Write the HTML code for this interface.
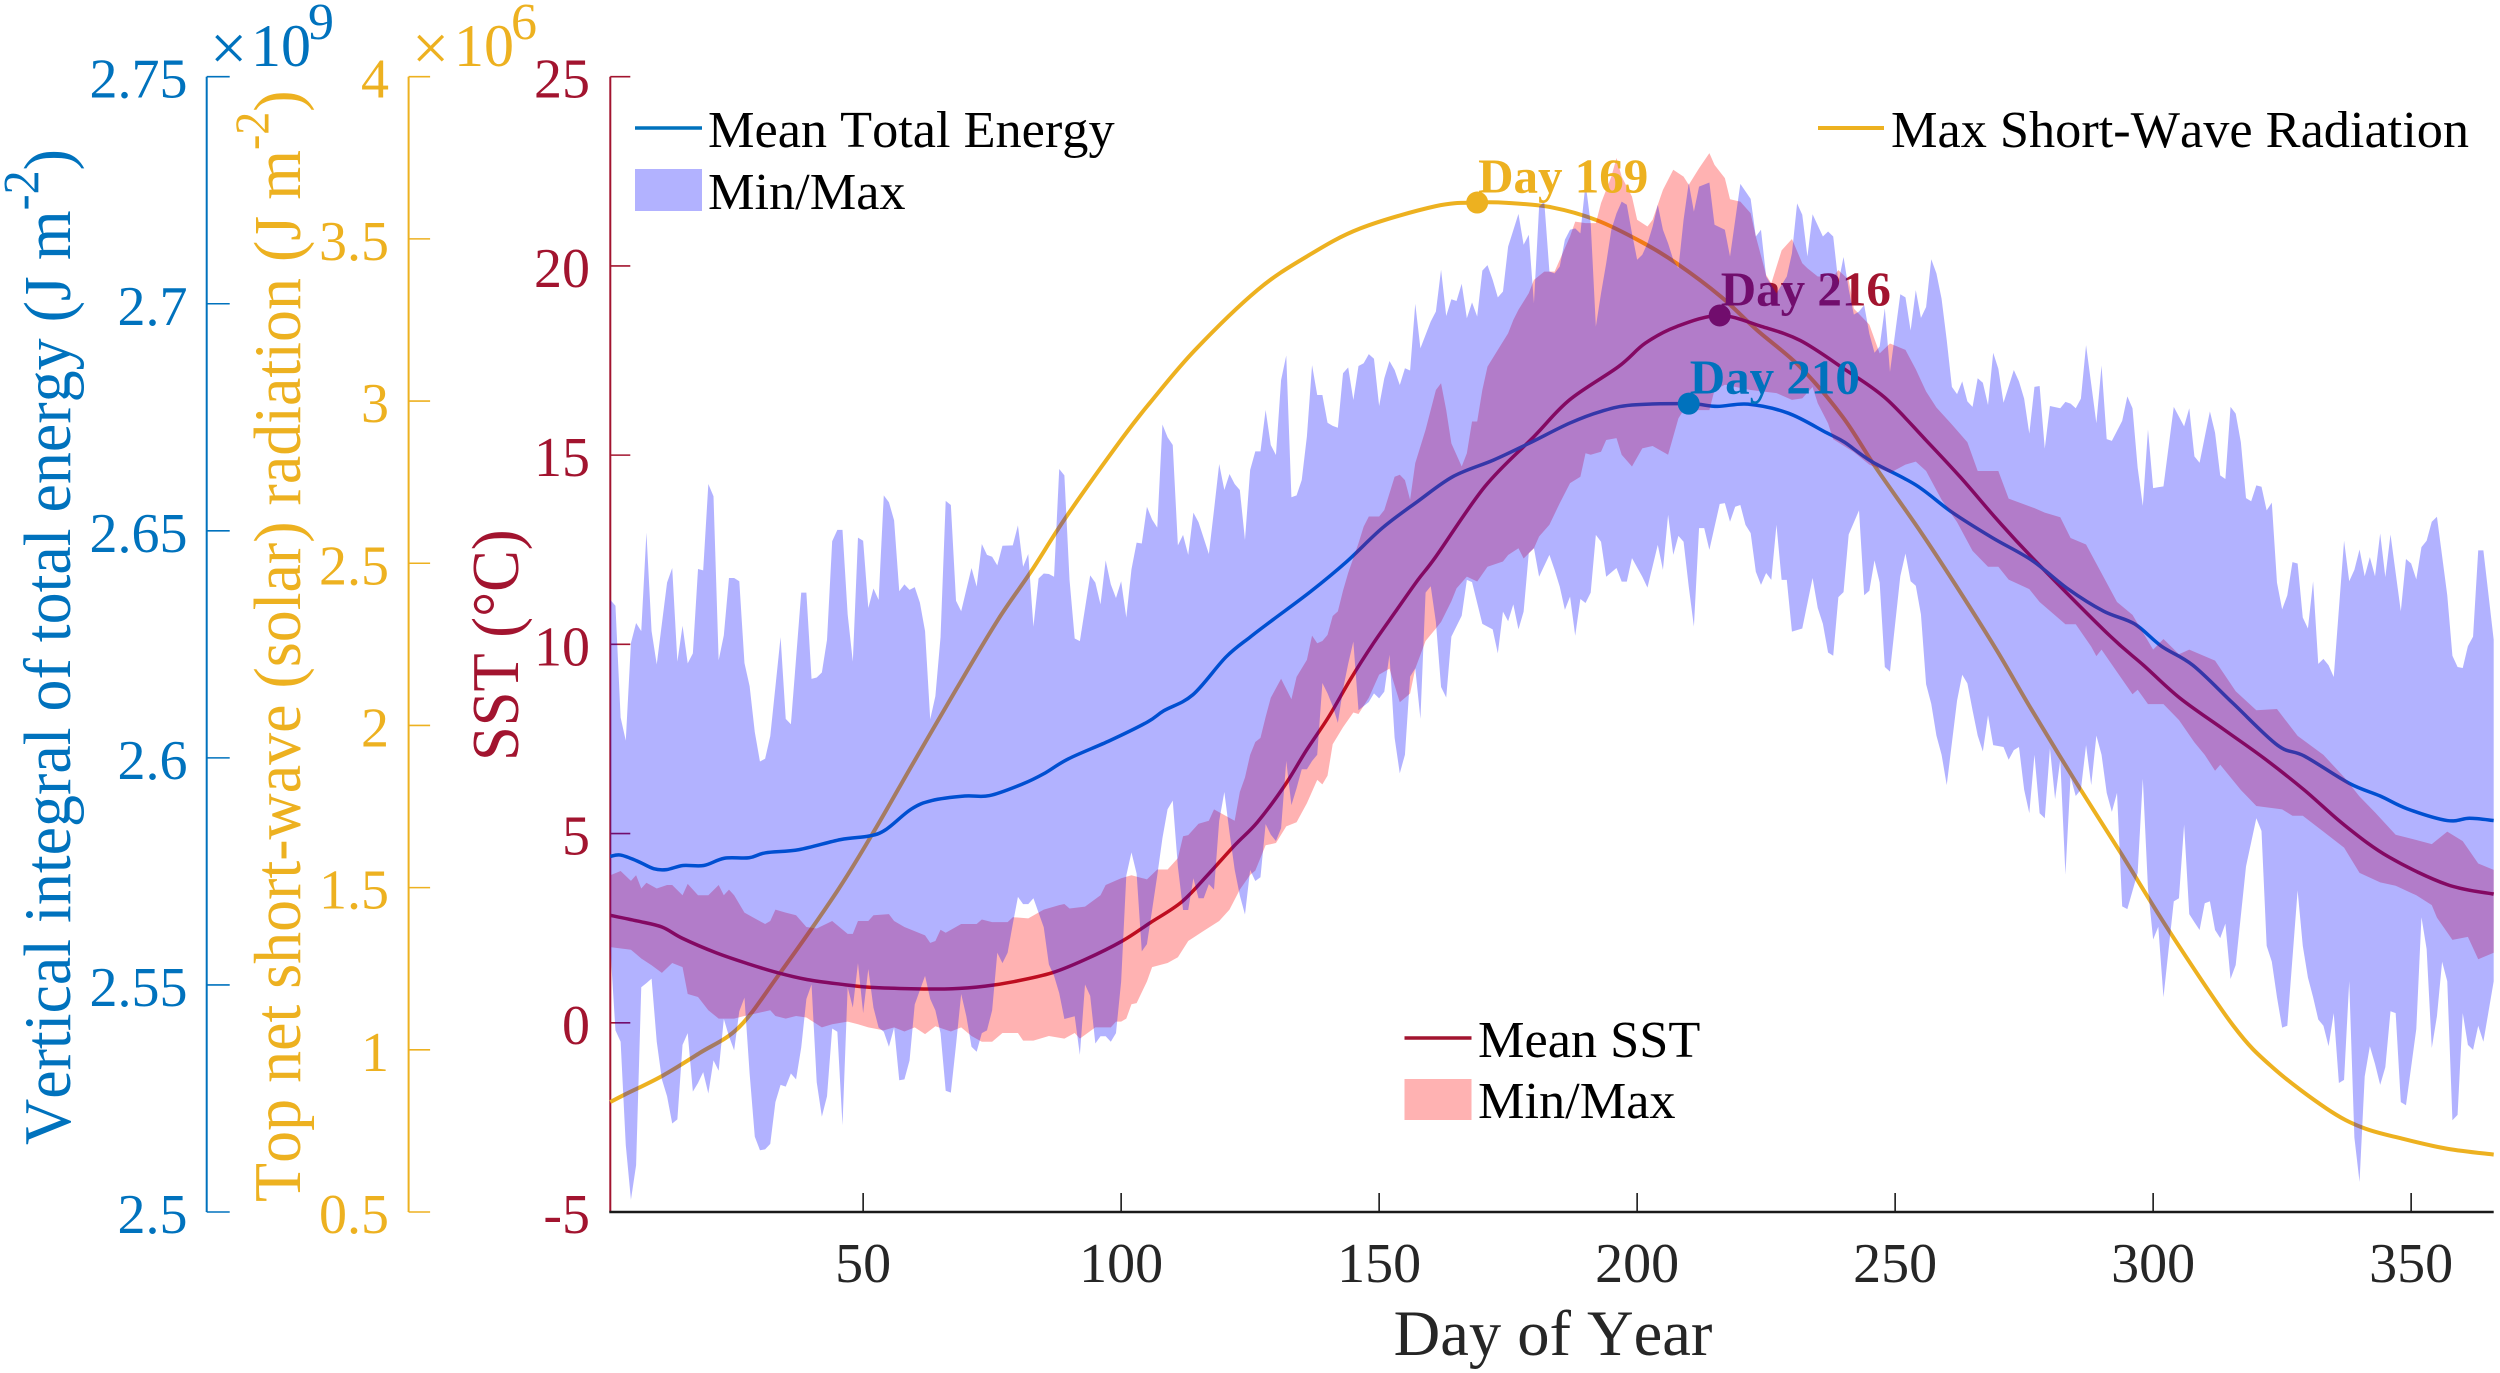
<!DOCTYPE html>
<html lang="en">
<head>
<meta charset="utf-8">
<title>Seasonal cycle of SST, total energy and short-wave radiation</title>
<style>
html,body{margin:0;padding:0;background:#fff;}
svg{display:block;}
text{font-family:"Liberation Serif",serif;font-kerning:none;}
</style>
</head>
<body>
<svg id="chart" xmlns="http://www.w3.org/2000/svg" width="2500" height="1373" viewBox="0 0 2500 1373">
  <rect x="0" y="0" width="2500" height="1373" fill="#ffffff"/>
  <g id="axes"></g>
  <g id="lines"></g>
  <g id="fills"></g>
  <g id="peaks"></g>

  <g fill="#0072BD">
    <text x="210" y="70" font-size="66">×</text>
    <text x="251" y="66" font-size="60">10</text>
    <text x="308" y="39" font-size="52">9</text>
  </g>
  <g fill="#EDB120">
    <text x="412" y="70" font-size="66">×</text>
    <text x="454" y="66" font-size="60">10</text>
    <text x="511" y="39" font-size="52">6</text>
  </g>

  <text transform="translate(70,1145) rotate(-90) scale(1,1.05)" font-size="64" fill="#0072BD">Vertical integral of total energy (J m<tspan dy="-30" font-size="48">-2</tspan><tspan dy="30">)</tspan></text>
  <text transform="translate(300,1202) rotate(-90) scale(1,1.05)" font-size="64" fill="#EDB120">Top net short-wave (solar) radiation (J m<tspan dy="-30" font-size="46">-2</tspan><tspan dy="30">)</tspan></text>
  <text transform="translate(518,761) rotate(-90) scale(1,1.06)" font-size="62.5" fill="#A2142F">SST (°C)</text>
  <text x="1553" y="1355" font-size="64.5" text-anchor="middle" fill="#262626">Day of Year</text>

  <g>
    <line x1="635" x2="702" y1="128" y2="128" stroke="#0072BD" stroke-width="3.5"/>
    <text x="708" y="147" font-size="52.3" fill="#000">Mean Total Energy</text>
    <rect x="635" y="169" width="67" height="42" fill="#0000FF" fill-opacity="0.3"/>
    <text x="708" y="209" font-size="52.3" fill="#000">Min/Max</text>
  </g>
  <g>
    <line x1="1818" x2="1884" y1="128" y2="128" stroke="#EDB120" stroke-width="4"/>
    <text x="1891" y="147" font-size="52.3" fill="#000">Max Short-Wave Radiation</text>
  </g>
  <g>
    <line x1="1404.5" x2="1471.5" y1="1038" y2="1038" stroke="#A2142F" stroke-width="3.5"/>
    <text x="1478" y="1057" font-size="52.3" fill="#000">Mean SST</text>
    <rect x="1404.5" y="1079" width="67" height="41" fill="#FF0000" fill-opacity="0.3"/>
    <text x="1478" y="1118" font-size="52.3" fill="#000">Min/Max</text>
  </g>
</svg>

<script>
var dayTicks = [50,100,150,200,250,300,350];
var sstTicks = [-5,0,5,10,15,20,25];
var energyTicks = [2.5,2.55,2.6,2.65,2.7,2.75];
var solarTicks = [0.5,1,1.5,2,2.5,3,3.5,4];

var solarMeanDays = [1,3.8,11,18.3,25.9,33.5,44.8,52,60,68.1,76.1,82.6,89.4,100.2,105.6,114.3,126.4,135.9,146.3,161,169,174.8,183.5,192.1,200.8,207.7,216.3,223.2,231.6,239.8,246.3,254.9,261.8,269.6,276.5,285.2,293.8,303.4,315.5,323.2,333.6,340.6,348.3,357,366];
var solarMeanValues = [0.839,0.862,0.919,0.99,1.069,1.228,1.485,1.671,1.892,2.113,2.325,2.476,2.644,2.885,2.995,3.157,3.342,3.445,3.532,3.601,3.612,3.611,3.597,3.558,3.491,3.424,3.321,3.219,3.105,2.952,2.794,2.598,2.431,2.234,2.047,1.821,1.605,1.359,1.075,0.945,0.819,0.76,0.726,0.695,0.677];

var energyMeanDays = [1,3,6.2,9.4,11.9,15.1,19.1,23.1,27.9,31.1,37.6,45.6,51.2,54.4,59.3,63.3,69.7,74.5,81,85,89.8,97.8,105.1,108.3,113.9,120.3,125,129.4,136.7,143.7,150.6,157.5,164.4,172.2,179.1,186.9,193,199,210,215.5,221.5,229.3,236.7,240.2,245.4,254,261,268.8,276.5,283.5,290.4,296.4,301.6,307.7,315.5,324.1,329.3,338,344,349.2,357,361.3,366];
var energyMeanValues = [2.5783,2.5786,2.5773,2.5756,2.5754,2.5763,2.5763,2.5779,2.578,2.5791,2.5798,2.582,2.5828,2.5842,2.5887,2.5906,2.5916,2.5917,2.5943,2.5965,2.5998,2.6038,2.6079,2.6104,2.6139,2.6222,2.6266,2.6304,2.6366,2.6432,2.6506,2.6565,2.662,2.6656,2.6693,2.6737,2.6763,2.6777,2.678,2.6774,2.6779,2.6759,2.6716,2.6695,2.6653,2.6601,2.6541,2.6485,2.6435,2.6372,2.6323,2.6295,2.6246,2.6204,2.612,2.6028,2.6004,2.5944,2.5916,2.5888,2.5862,2.5867,2.5862];

var sstMeanDays = [1,6.2,11,15,21.5,27.9,33.5,39.2,45.6,51.2,59.3,67.3,73.7,79.3,86.6,93,100.2,105.6,111.7,116.8,122,126.4,131.6,135.9,140.2,144.5,148.9,153.2,157.5,161,170.5,180,186.9,196.4,201.6,207.7,216,224.1,231.6,240.2,248,255.8,262.7,269.6,276.5,291.2,298.2,305.1,313.7,321.5,329.3,337.1,345.7,357,366];
var sstMeanValues = [2.84,2.69,2.53,2.23,1.85,1.55,1.32,1.14,1.02,0.94,0.9,0.9,0.97,1.09,1.32,1.67,2.16,2.64,3.19,3.91,4.69,5.3,6.25,7.2,8.08,9.09,10.03,10.87,11.7,12.32,14.17,15.49,16.46,17.34,17.96,18.4,18.69,18.4,18.03,17.27,16.52,15.42,14.41,13.32,12.3,10.28,9.44,8.59,7.75,6.99,6.15,5.22,4.38,3.65,3.4];

var energyMaxDays = [1,2,3,4,5,6,7,8,9,10,
12,13,14,15,16,17,18,19,20,21,
22,23,24,25,26,27,28,29,30,31,
32,34,35,36,38,39,40,41,42,43,
44,45,46,47,48,49,50,51,52,53,
54,55,56,57,58,59,60,61,62,63,
64,65,66,67,68,69,71,72,73,74,
75,76,77,79,80,81,82,83,84,85,
86,87,88,89,90,91,92,94,95,96,
97,98,99,100,101,102,103,104,105,106,
107,108,109,110,111,112,113,114,115,117,
118,119,120,121,122,123,124,125,126,127,
128,129,130,131,132,133,134,135,136,137,
138,139,140,141,142,143,144,145,146,147,
148,149,150,151,152,153,154,155,156,157,
158,160,161,162,163,164,165,166,167,168,
169,170,171,172,173,174,175,177,178,179,
180,181,182,183,184,185,186,187,188,189,
190,191,192,193,194,195,196,197,198,199,
200,201,202,203,204,205,206,207,208,209,
210,211,212,214,215,217,218,220,222,223,
224,225,227,229,230,231,232,233,234,236,
237,238,239,240,241,242,243,244,245,246,
247,248,249,251,252,253,254,255,256,257,
258,259,260,261,262,263,264,265,266,267,
268,269,270,271,273,274,275,276,277,278,
279,280,282,283,284,285,286,287,289,290,
291,292,294,295,296,297,298,299,300,302,
304,306,307,308,309,311,312,313,314,315,
316,317,318,319,320,321,322,323,324,325,
326,327,328,329,330,331,332,333,334,335,
337,338,339,340,341,342,343,344,345,346,
348,349,350,351,352,353,354,355,357,358,
359,360,361,362,363,364,366];
var energyMaxValues = [2.6348,2.6335,2.6089,2.6038,2.6253,2.6297,2.6279,2.6496,2.6279,2.6206,
2.6386,2.6418,2.6212,2.6291,2.6208,2.6230,2.6416,2.6413,2.6603,2.6576,
2.6215,2.6270,2.6396,2.6396,2.6389,2.6209,2.6158,2.6057,2.5992,2.5998,
2.6048,2.6266,2.6086,2.6074,2.6364,2.6364,2.6174,2.6177,2.6188,2.6260,
2.6477,2.6502,2.6502,2.6316,2.6212,2.6485,2.6478,2.6330,2.6373,2.6348,
2.6578,2.6563,2.6523,2.6367,2.6382,2.6370,2.6376,2.6342,2.6279,2.6085,
2.6136,2.6266,2.6566,2.6557,2.6346,2.6323,2.6418,2.6377,2.6471,2.6447,
2.6443,2.6424,2.6467,2.6468,2.6512,2.6421,2.6449,2.6289,2.6395,2.6406,
2.6405,2.6399,2.6636,2.6622,2.6392,2.6263,2.6257,2.6402,2.6386,2.6338,
2.6435,2.6382,2.6352,2.6389,2.6309,2.6415,2.6474,2.6472,2.6553,2.6525,
2.6507,2.6734,2.6706,2.6689,2.6468,2.6491,2.6447,2.6540,2.6519,2.6449,
2.6546,2.6647,2.6590,2.6625,2.6603,2.6590,2.6480,2.6634,2.6675,2.6675,
2.6766,2.6689,2.6667,2.6832,2.6886,2.6574,2.6578,2.6612,2.6708,2.6865,
2.6799,2.6799,2.6738,2.6731,2.6727,2.6847,2.6860,2.6788,2.6863,2.6869,
2.6889,2.6879,2.6775,2.6836,2.6874,2.6854,2.6821,2.6858,2.6853,2.7000,
2.6902,2.6961,2.6983,2.7075,2.6973,2.7010,2.7006,2.7044,2.6968,2.7003,
2.6972,2.7073,2.7085,2.7053,2.7014,2.7027,2.7126,2.7198,2.7130,2.7152,
2.7001,2.7214,2.7225,2.7071,2.7067,2.7082,2.7141,2.7163,2.7166,2.7155,
2.7266,2.7177,2.6950,2.7023,2.7089,2.7163,2.7199,2.7225,2.7218,2.7155,
2.7097,2.7108,2.7133,2.7170,2.7218,2.7163,2.7133,2.7097,2.7078,2.7185,
2.7266,2.7203,2.7258,2.7267,2.7174,2.7163,2.7104,2.7264,2.7231,2.7148,
2.7163,2.7060,2.7023,2.7060,2.7111,2.7221,2.7196,2.7104,2.7197,2.7148,
2.7159,2.7148,2.7046,2.7103,2.7032,2.6976,2.6983,2.6997,2.6934,2.6892,
2.6906,2.6990,2.6850,2.7021,2.7014,2.6941,2.7030,2.6969,2.6993,2.7098,
2.7067,2.7011,2.6920,2.6817,2.6801,2.6829,2.6785,2.6773,2.6836,2.6826,
2.6777,2.6892,2.6857,2.6782,2.6854,2.6829,2.6791,2.6714,2.6817,2.6819,
2.6681,2.6775,2.6770,2.6784,2.6780,2.6770,2.6791,2.6909,2.6737,2.6864,
2.6702,2.6698,2.6742,2.6796,2.6770,2.6639,2.6555,2.6723,2.6594,2.6598,
2.6773,2.6730,2.6770,2.6664,2.6650,2.6763,2.6716,2.6622,2.6614,2.6773,
2.6758,2.6695,2.6572,2.6565,2.6600,2.6597,2.6545,2.6562,2.6386,2.6327,
2.6358,2.6431,2.6428,2.6309,2.6285,2.6389,2.6207,2.6218,2.6204,2.6178,
2.6478,2.6389,2.6414,2.6459,2.6400,2.6442,2.6400,2.6494,2.6398,2.6492,
2.6323,2.6438,2.6428,2.6393,2.6464,2.6478,2.6520,2.6531,2.6358,2.6225,
2.6200,2.6198,2.6246,2.6267,2.6457,2.6457,2.6260];

var energyMinDays = [1,2,3,4,5,6,7,8,9,10,
11,12,13,14,15,16,17,18,19,20,
21,22,23,24,25,26,27,28,29,30,
31,32,33,34,35,36,37,38,39,40,
41,42,43,44,45,46,47,48,49,50,
51,52,53,54,55,56,57,58,59,60,
62,63,64,65,66,67,68,69,70,71,
72,73,74,75,76,77,78,79,80,81,
82,83,84,85,86,87,88,89,91,92,
93,94,95,96,97,98,99,100,101,102,
103,104,105,106,107,108,109,110,111,112,
113,114,115,116,117,118,119,120,121,122,
123,124,125,126,127,128,129,130,131,132,
133,134,135,136,137,138,139,140,141,142,
143,144,145,146,148,149,150,151,152,153,
154,155,156,157,158,159,160,161,162,163,
164,166,167,168,170,172,173,174,175,176,
177,178,179,180,181,183,184,185,186,187,
188,189,190,191,192,193,194,196,197,198,
199,201,202,204,205,206,207,208,209,210,
211,212,213,214,216,217,218,219,220,221,
222,223,224,225,226,227,228,229,230,232,
234,235,236,237,238,239,240,241,243,244,
245,246,247,248,249,251,252,253,254,255,
256,257,258,259,260,262,263,264,265,266,
267,268,269,271,272,273,274,275,276,277,
278,279,280,281,282,283,284,285,286,287,
288,289,290,291,292,293,294,295,297,298,
299,300,301,302,304,305,306,307,308,309,
310,311,312,313,314,315,316,318,320,321,
322,323,324,325,326,328,329,330,331,332,
333,334,335,336,337,338,339,340,341,342,
343,344,345,346,347,348,349,351,352,353,
354,355,356,357,358,359,360,361,362,363,
364,366];
var energyMinValues = [2.5583,2.5400,2.5375,2.5147,2.5027,2.5103,2.5495,2.5504,2.5514,2.5375,
2.5292,2.5255,2.5195,2.5204,2.5368,2.5394,2.5265,2.5284,2.5308,2.5261,
2.5334,2.5311,2.5425,2.5387,2.5356,2.5442,2.5472,2.5305,2.5166,2.5136,
2.5138,2.5150,2.5242,2.5280,2.5276,2.5305,2.5292,2.5362,2.5469,2.5501,
2.5286,2.5210,2.5255,2.5404,2.5397,2.5191,2.5495,2.5450,2.5548,2.5438,
2.5535,2.5450,2.5406,2.5397,2.5364,2.5406,2.5290,2.5292,2.5334,2.5457,
2.5520,2.5469,2.5444,2.5394,2.5267,2.5263,2.5368,2.5480,2.5431,2.5364,
2.5353,2.5394,2.5400,2.5444,2.5571,2.5548,2.5571,2.5634,2.5694,2.5678,
2.5678,2.5691,2.5659,2.5627,2.5545,2.5520,2.5482,2.5425,2.5431,2.5346,
2.5501,2.5476,2.5371,2.5387,2.5387,2.5375,2.5394,2.5507,2.5741,2.5792,
2.5745,2.5574,2.5590,2.5665,2.5741,2.5823,2.5887,2.5906,2.5760,2.5665,
2.5665,2.5735,2.5691,2.5691,2.5722,2.5710,2.5861,2.5925,2.5836,2.5754,
2.5697,2.5655,2.5753,2.5729,2.5737,2.5854,2.5831,2.5817,2.5845,2.5993,
2.5896,2.5933,2.5975,2.5975,2.5993,2.6007,2.6165,2.6142,2.6114,2.6077,
2.6151,2.6207,2.6256,2.6105,2.6123,2.6142,2.6131,2.6146,2.6227,2.6044,
2.5966,2.6007,2.6179,2.6197,2.6086,2.6364,2.6378,2.6299,2.6156,2.6133,
2.6267,2.6313,2.6392,2.6387,2.6295,2.6283,2.6230,2.6322,2.6301,2.6338,
2.6283,2.6322,2.6451,2.6462,2.6399,2.6447,2.6414,2.6377,2.6326,2.6355,
2.6269,2.6350,2.6341,2.6364,2.6491,2.6476,2.6399,2.6418,2.6388,2.6388,
2.6440,2.6399,2.6375,2.6469,2.6414,2.6535,2.6447,2.6489,2.6476,2.6377,
2.6289,2.6506,2.6506,2.6458,2.6559,2.6561,2.6520,2.6553,2.6557,2.6513,
2.6495,2.6410,2.6381,2.6407,2.6392,2.6513,2.6392,2.6392,2.6278,2.6285,
2.6396,2.6330,2.6295,2.6232,2.6225,2.6354,2.6365,2.6492,2.6545,2.6358,
2.6368,2.6435,2.6386,2.6200,2.6190,2.6400,2.6450,2.6389,2.6379,2.6316,
2.6162,2.6119,2.6049,2.6007,2.5940,2.6126,2.6183,2.6164,2.6105,2.6049,
2.6014,2.6094,2.6028,2.6024,2.5996,2.6017,2.6024,2.5930,2.5878,2.6007,
2.5878,2.5867,2.6021,2.5909,2.5996,2.5743,2.5958,2.5916,2.5930,2.6028,
2.5940,2.6049,2.6007,2.5923,2.5881,2.5923,2.5673,2.5667,2.5747,2.5954,
2.5712,2.5600,2.5628,2.5473,2.5684,2.5691,2.5853,2.5656,2.5638,2.5621,
2.5680,2.5684,2.5621,2.5603,2.5635,2.5513,2.5544,2.5761,2.5867,2.5839,
2.5586,2.5551,2.5473,2.5406,2.5410,2.5708,2.5586,2.5516,2.5473,2.5424,
2.5410,2.5365,2.5438,2.5284,2.5291,2.5508,2.5164,2.5066,2.5298,2.5365,
2.5326,2.5280,2.5319,2.5442,2.5438,2.5242,2.5235,2.5403,2.5649,2.5579,
2.5361,2.5431,2.5551,2.5508,2.5202,2.5214,2.5438,2.5368,2.5357,2.5410,
2.5375,2.5508];

var sstMaxDays = [1,3,5,6,7,8,10,12,13,15,
16,18,20,22,23,24,25,27,29,31,
32,33,35,37,39,41,44,47,48,49,
51,52,55,56,58,62,63,64,65,66,
69,72,73,75,78,79,82,85,88,89,
90,93,96,97,100,102,105,107,109,111,
112,113,115,117,118,122,123,124,125,126,
127,128,129,131,133,134,136,137,138,139,
140,141,142,143,144,146,147,148,150,151,
153,154,155,156,157,159,161,162,163,164,
166,167,168,169,170,171,173,175,176,177,
179,180,182,184,185,187,188,190,192,193,
195,196,197,199,200,202,203,205,207,209,
210,212,214,215,217,218,220,222,223,225,
226,228,230,232,233,235,238,239,241,242,
245,247,249,252,254,256,258,261,264,266,
270,272,277,279,282,284,287,290,293,296,
300,302,305,307,312,316,320,324,328,333,
337,340,343,347,351,354,357,360,363,366];
var sstMaxValues = [3.90,4.01,3.75,3.90,3.55,3.70,3.55,3.64,3.64,3.37,
3.67,3.37,3.37,3.64,3.37,3.52,3.37,2.91,2.76,2.61,
2.69,2.99,2.91,2.84,2.53,2.49,2.69,2.35,2.35,2.69,
2.69,2.84,2.87,2.69,2.53,2.31,2.11,2.16,2.46,2.38,
2.61,2.61,2.73,2.66,2.66,2.79,2.76,2.99,3.11,3.14,
3.02,3.07,3.37,3.64,3.82,3.90,3.79,4.05,4.05,4.35,
4.93,4.96,5.26,5.34,5.64,5.34,6.10,6.48,7.08,7.42,
7.53,8.08,8.59,9.09,8.55,9.14,9.59,10.23,10.03,10.09,
10.25,10.75,10.87,11.42,11.89,12.67,13.11,13.38,13.38,13.55,
14.43,14.48,14.34,13.82,14.79,15.67,16.72,16.9,16.19,15.31,
14.7,15.05,15.89,15.89,16.72,17.34,17.78,18.22,18.57,18.84,
19.28,19.63,19.85,19.85,20.16,20.78,21.17,21.13,21.13,21.66,
22.36,22.85,22.36,21.83,21.22,21.04,21.22,22.01,22.54,22.36,
22.14,22.58,22.98,22.67,22.32,21.76,21.7,21.39,20.78,19.76,
19.54,20.41,20.71,20.07,19.94,19.72,19.72,19.89,19.63,18.87,
18.45,17.69,17.95,17.78,17.27,16.68,16.26,15.81,15.34,14.58,
14.58,13.85,13.6,13.48,13.36,12.81,12.64,11.88,11.12,10.78,
9.86,10.14,9.74,9.86,9.57,8.76,8.26,8.29,7.58,7.08,
6.49,5.98,5.56,4.97,4.83,4.72,5.05,4.8,4.21,4.04];

var sstMinDays = [1,5,7,9,11,13,15,16,18,20,
22,25,27,32,33,35,37,39,42,44,
47,49,51,54,56,58,60,62,64,67,
69,71,73,75,77,80,81,83,86,89,
91,92,95,98,99,100,101,102,103,105,
106,109,111,113,116,119,121,123,125,126,
128,130,132,134,136,138,139,140,141,143,
145,146,148,150,152,154,156,157,159,161,
162,164,165,167,169,171,174,175,177,178,
180,181,183,185,187,189,190,191,193,194,
196,197,199,201,203,206,208,209,214,215,
217,222,227,230,232,234,235,237,238,242,
245,249,252,254,256,259,262,265,268,270,
272,276,278,283,285,288,289,290,293,296,
297,299,302,305,308,310,312,313,317,320,
325,327,329,333,337,340,344,347,351,354,
355,358,361,363,366];
var sstMinValues = [2.0,1.93,1.70,1.52,1.32,1.58,1.47,0.76,0.68,0.33,
0.11,0.11,0.18,0.33,0.18,0.11,0.18,0.14,-0.12,-0.04,
0.03,-0.04,-0.12,-0.2,-0.12,-0.23,-0.12,-0.3,-0.09,-0.23,
-0.12,-0.35,-0.5,-0.5,-0.27,-0.27,-0.47,-0.47,-0.35,-0.42,
-0.27,-0.42,-0.12,-0.12,0.03,0.03,0.11,0.49,0.52,1.09,
1.47,1.58,1.73,2.16,2.43,2.69,2.99,3.52,3.91,4.02,
4.69,4.75,5.19,5.3,5.8,6.42,6.3,6.53,7.36,7.81,
8.2,8.16,8.59,9.2,9.36,8.47,8.7,9.36,10.09,10.42,
10.59,11.14,11.48,11.79,11.66,12.05,12.19,12.36,12.54,12.27,
12.54,12.85,13.16,13.73,14.26,14.43,15.05,15.01,15.09,15.4,
15.45,15.01,14.7,15.18,15.24,15.01,15.97,16.19,16.19,16.72,
16.86,16.72,16.64,16.46,16.5,16.8,16.37,15.84,15.42,15.08,
14.75,14.53,14.75,14.83,14.58,13.82,13.23,12.47,12.05,12.05,
11.71,11.46,11.12,10.53,10.53,9.94,9.69,9.86,9.27,8.68,
8.8,8.42,8.42,8.0,7.41,7.08,6.66,6.82,6.15,5.73,
5.64,5.47,5.47,5.05,4.63,3.96,3.71,3.62,3.37,3.11,
2.78,2.19,2.27,1.68,1.85];

var solarPeakDay = 169;
var solarPeakValue = 3.612;
var energyPeakDay = 210;
var energyPeakValue = 2.678;
var sstPeakDay = 216;
var sstPeakValue = 18.69;

var SVGNS = 'http://www.w3.org/2000/svg';
var PLOT_LEFT = 610.3, PLOT_RIGHT = 2493.7, PLOT_TOP = 76.7, PLOT_BOTTOM = 1212;
var BLUE = '#0072BD', YELLOW = '#EDB120', RED = '#A2142F';

function xScale(d){ return PLOT_LEFT + (d - 1) / 365 * (PLOT_RIGHT - PLOT_LEFT); }
function yFrac(f){ return PLOT_BOTTOM - f * (PLOT_BOTTOM - PLOT_TOP); }
function ySst(v){ return yFrac((v + 5) / 30); }
function yEnergy(v){ return yFrac((v - 2.5) / 0.25); }
function ySolar(v){ return yFrac((v - 0.5) / 3.5); }

function mk(parent, tag, attrs, text){
  var el = document.createElementNS(SVGNS, tag);
  for (var k in attrs) el.setAttribute(k, attrs[k]);
  if (text !== undefined) el.textContent = text;
  parent.appendChild(el);
  return el;
}
function pathFrom(days, vals, yFn){
  var s = '';
  for (var i = 0; i < days.length; i++) s += (i ? 'L' : 'M') + xScale(days[i]).toFixed(2) + ' ' + yFn(vals[i]).toFixed(2);
  return s;
}
function smoothFrom(days, vals, yFn){
  var pts = days.map(function(d, i){ return [xScale(d), yFn(vals[i])]; });
  var s = 'M' + pts[0][0].toFixed(2) + ' ' + pts[0][1].toFixed(2);
  for (var i = 0; i < pts.length - 1; i++) {
    var p0 = pts[Math.max(i - 1, 0)], p1 = pts[i], p2 = pts[i + 1], p3 = pts[Math.min(i + 2, pts.length - 1)];
    var c1x = p1[0] + (p2[0] - p0[0]) / 6, c1y = p1[1] + (p2[1] - p0[1]) / 6;
    var c2x = p2[0] - (p3[0] - p1[0]) / 6, c2y = p2[1] - (p3[1] - p1[1]) / 6;
    s += 'C' + c1x.toFixed(2) + ' ' + c1y.toFixed(2) + ' ' + c2x.toFixed(2) + ' ' + c2y.toFixed(2) + ' ' + p2[0].toFixed(2) + ' ' + p2[1].toFixed(2);
  }
  return s;
}
function bandFrom(maxD, maxV, minD, minV, yFn){
  var s = pathFrom(maxD, maxV, yFn);
  for (var i = minD.length - 1; i >= 0; i--) s += 'L' + xScale(minD[i]).toFixed(2) + ' ' + yFn(minV[i]).toFixed(2);
  return s + 'Z';
}

var axes = document.getElementById('axes');
var lines = document.getElementById('lines');
var peaks = document.getElementById('peaks');
var fills = document.getElementById('fills');

function drawYAxis(axisX, tickLen, color, ticks, yFn, labelX, prefix){
  var spine = mk(axes, 'line', {x1: axisX, x2: axisX, y1: PLOT_TOP, y2: PLOT_BOTTOM, stroke: color, 'stroke-width': 2});
  
  
  ticks.forEach(function(t){
    var y = yFn(t);
    var tick = mk(axes, 'line', {x1: axisX, x2: axisX + tickLen, y1: y, y2: y, stroke: color, 'stroke-width': 1.6});
    
    
    var label = mk(axes, 'text', {x: labelX, y: y + 21, 'font-size': 56, fill: color, 'text-anchor': 'end'}, String(t));
    
    
  });
}
drawYAxis(206.7, 23, BLUE, energyTicks, yEnergy, 187.5, 'energy');
drawYAxis(408.6, 21.5, YELLOW, solarTicks, ySolar, 389, 'solar');
drawYAxis(610.3, 20, RED, sstTicks, ySst, 590, 'sst');

var xAxisLine = mk(axes, 'line', {x1: PLOT_LEFT - 1, x2: PLOT_RIGHT, y1: PLOT_BOTTOM, y2: PLOT_BOTTOM, stroke: '#1a1a1a', 'stroke-width': 2.4});


dayTicks.forEach(function(d){
  var x = xScale(d);
  var tick = mk(axes, 'line', {x1: x, x2: x, y1: PLOT_BOTTOM, y2: PLOT_BOTTOM - 19, stroke: '#1a1a1a', 'stroke-width': 1.6});
  
  
  var label = mk(axes, 'text', {x: x, y: 1282, 'font-size': 56, fill: '#262626', 'text-anchor': 'middle'}, String(d));
  
  
});

var solarLine = mk(lines, 'path', {d: smoothFrom(solarMeanDays, solarMeanValues, ySolar), fill: 'none', stroke: YELLOW, 'stroke-width': 4, 'stroke-linejoin': 'round'});


var sstLine = mk(lines, 'path', {d: smoothFrom(sstMeanDays, sstMeanValues, ySst), fill: 'none', stroke: RED, 'stroke-width': 3.5, 'stroke-linejoin': 'round'});


var energyLine = mk(lines, 'path', {d: smoothFrom(energyMeanDays, energyMeanValues, yEnergy), fill: 'none', stroke: BLUE, 'stroke-width': 3.5, 'stroke-linejoin': 'round'});



function drawPeak(parent, day, value, yFn, color, key){
  var cx = xScale(day), cy = yFn(value);
  var dot = mk(parent, 'circle', {cx: cx, cy: cy, r: 11, fill: color});
  
  
  var label = mk(parent, 'text', {x: cx + 1, y: cy - 10, 'font-size': 49, 'font-weight': 'bold', fill: color}, 'Day ' + day);
  
  
}

var sstBand = mk(fills, 'path', {d: bandFrom(sstMaxDays, sstMaxValues, sstMinDays, sstMinValues, ySst), fill: '#FF0000', 'fill-opacity': 0.3, stroke: 'none'});



drawPeak(fills, sstPeakDay, sstPeakValue, ySst, RED, 'sst');

var energyBand = mk(fills, 'path', {d: bandFrom(energyMaxDays, energyMaxValues, energyMinDays, energyMinValues, yEnergy), fill: '#0000FF', 'fill-opacity': 0.3, stroke: 'none'});



drawPeak(peaks, solarPeakDay, solarPeakValue, ySolar, YELLOW, 'solar');
drawPeak(peaks, energyPeakDay, energyPeakValue, yEnergy, BLUE, 'energy');
</script>
</body>
</html>
